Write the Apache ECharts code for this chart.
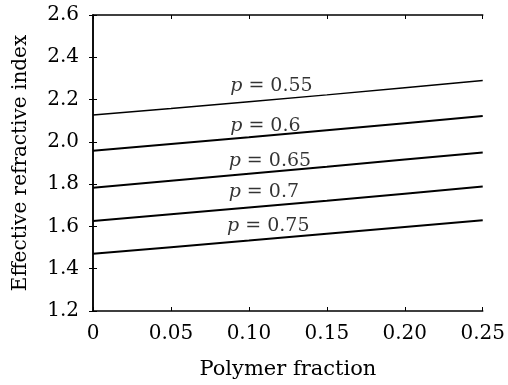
<!DOCTYPE html>
<html>
<head>
<meta charset="utf-8">
<script src="https://cdn.jsdelivr.net/npm/echarts@6/dist/echarts.min.js"></script>
<style>
  html, body { margin: 0; padding: 0; background: #fff; }
  #chart { width: 508px; height: 385px; }
</style>
</head>
<body>
<div id="chart"></div>
<script>
// polymer fraction samples
const fractions = [0, 0.05, 0.10, 0.15, 0.20, 0.25];
const xTickLabels = ['0', '0.05', '0.10', '0.15', '0.20', '0.25'];

// effective refractive index, one array per p
const pNames = ['0.55', '0.6', '0.65', '0.7', '0.75'];
const n055 = [2.127, 2.158, 2.190, 2.222, 2.256, 2.290];
const n060 = [1.958, 1.990, 2.022, 2.055, 2.088, 2.122];
const n065 = [1.783, 1.816, 1.849, 1.882, 1.916, 1.950];
const n070 = [1.626, 1.658, 1.690, 1.722, 1.755, 1.789];
const n075 = [1.471, 1.502, 1.533, 1.565, 1.597, 1.629];
const curves = [n055, n060, n065, n070, n075];

// where the "p = ..." labels sit (data units)
const labelX = [0.088, 0.088, 0.087, 0.087, 0.086];
const labelY = [2.262, 2.076, 1.908, 1.762, 1.602];

const font = 'DejaVu Serif';

const chartDom = document.getElementById('chart');
const myChart = echarts.init(chartDom);

const series = [];
curves.forEach((vals, i) => {
    series.push({
        type: 'line',
        name: 'p = ' + pNames[i],
        data: vals.map((v, j) => [fractions[j], v]),
        showSymbol: false,
        silent: true,
        lineStyle: {color: '#000', width: i === 0 ? 1.4 : 2}
    });
});
series.push({
    type: 'scatter',
    symbolSize: 0,
    silent: true,
    data: pNames.map((n, i) => ({value: [labelX[i], labelY[i]], name: n})),
    label: {
        show: true,
        position: 'right',
        distance: 0,
        formatter: p => '{i|p}{t|\u00a0= ' + p.name + '}',
        rich: {
            i: {fontStyle: 'italic', fontFamily: font, fontSize: 19, color: '#000'},
            t: {fontFamily: font, fontSize: 19, color: '#000'}
        }
    }
});

const axisLine = {show: true, lineStyle: {color: '#000', width: 1.5}};
const axisTick = {show: true, inside: true, length: 4, lineStyle: {color: '#000', width: 1}};

const option = {
    animation: false,
    grid: {left: 93, top: 15, right: 22, bottom: 72},
    xAxis: [{
        type: 'value', min: 0, max: 0.25, interval: 0.05,
        axisLine: axisLine, axisTick: axisTick, splitLine: {show: false},
        axisLabel: {
            color: '#000', fontFamily: font, fontSize: 20, margin: 13,
            formatter: v => xTickLabels[Math.round(v / 0.05)]
        },
        name: 'Polymer fraction', nameLocation: 'middle', nameGap: 48,
        nameTextStyle: {color: '#000', fontFamily: font, fontSize: 21}
    }, {
        type: 'value', min: 0, max: 0.25, interval: 0.05, position: 'top',
        axisLine: axisLine, axisTick: axisTick, splitLine: {show: false},
        axisLabel: {show: false}
    }],
    yAxis: [{
        type: 'value', min: 1.2, max: 2.6, interval: 0.2,
        axisLine: axisLine, axisTick: axisTick, splitLine: {show: false},
        axisLabel: {
            color: '#000', fontFamily: font, fontSize: 20, margin: 14,
            formatter: v => v.toFixed(1)
        },
        name: 'Effective refractive index', nameLocation: 'middle', nameGap: 62,
        nameTextStyle: {color: '#000', fontFamily: font, fontSize: 20}
    }, {
        type: 'value', min: 1.2, max: 2.6, interval: 0.2, position: 'right',
        axisLine: axisLine, axisTick: axisTick, splitLine: {show: false},
        axisLabel: {show: false}
    }],
    series: series
};
myChart.setOption(option);
</script>
</body>
</html>
